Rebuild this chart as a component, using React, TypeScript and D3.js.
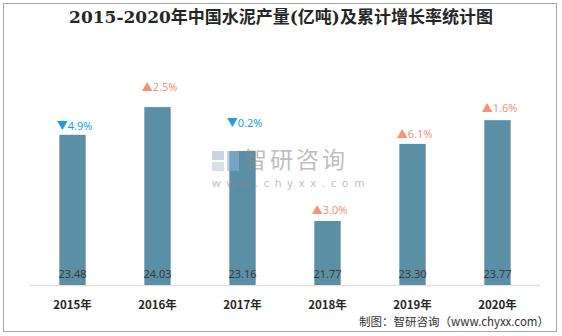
import React from "react";
import * as d3 from "d3";

const years = ["2015年", "2016年", "2017年", "2018年", "2019年", "2020年"];
const output = [23.48, 24.03, 23.16, 21.77, 23.3, 23.77];
const growth = [-4.9, 2.5, -0.2, 3.0, 6.1, 1.6];
const outputLabels = ["23.48", "24.03", "23.16", "21.77", "23.30", "23.77"];

// layout: lift of each growth label above its bar (px)
const labelLift = [9, 20, 28, 11, 10, 12];

const W = 562;
const H = 336;
const baseY = 285;

export default function App() {
  const x = d3
    .scaleBand<string>()
    .domain(years)
    .range([30, 540])
    .paddingInner(0.69)
    .paddingOuter(0.345);
  const y = d3.scaleLinear().domain([20.5, 24.5]).range([baseY, baseY - 4 * 50.4]);

  const sans = "'Noto Sans', 'Noto Sans CJK SC', sans-serif";
  const cjk = "'Noto Sans CJK SC', sans-serif";

  return (
    <div style={{ position: "absolute", left: 0, top: 0 }}>
      <svg width={W} height={H} style={{ display: "block", background: "#fff" }}>
        <rect x={3.5} y={3.5} width={553} height={328} fill="#fff" stroke="#a6a6a6" strokeWidth={1} />
        <text
          x={281}
          y={23}
          textAnchor="middle"
          fontFamily="'DejaVu Serif', 'Noto Sans CJK SC', serif"
          fontSize={17}
          fontWeight={600}
          fill="#262626"
        >
          2015-2020年中国水泥产量(亿吨)及累计增长率统计图
        </text>

        <line x1={30} x2={540} y1={baseY + 0.5} y2={baseY + 0.5} stroke="#e0e0e0" strokeWidth={1.5} />

        {years.map((yr, i) => {
          const bx = x(yr)!;
          const bw = x.bandwidth();
          const top = y(output[i]);
          const cx = bx + bw / 2;
          const up = growth[i] >= 0;
          return (
            <g key={yr}>
              <rect x={bx} y={top} width={bw} height={baseY - top} fill="#5b8fa6" />
              <text x={cx} y={278} textAnchor="middle" fontFamily={sans} fontSize={11} fill="#3a3a3a">
                {outputLabels[i]}
              </text>
              <text
                x={cx + 2}
                y={top - labelLift[i] + 4}
                textAnchor="middle"
                fontFamily={sans}
                fontSize={11}
                fill={up ? "#f3937c" : "#1e9fd8"}
              >
                {(up ? "▲" : "▼") + Math.abs(growth[i]).toFixed(1) + "%"}
              </text>
              <text x={cx} y={309} textAnchor="middle" fontFamily={cjk} fontSize={11.5} fontWeight={700} fill="#262626">
                {yr}
              </text>
            </g>
          );
        })}

        {/* watermark */}
        <g opacity={0.55}>
          <rect x={212} y={151} width={12} height={9} fill="#9fb3c8" />
          <rect x={212} y={162} width={12} height={9} fill="#b7c6d6" />
          <rect x={227} y={151} width={12} height={20} fill="#8fb8d8" />
          <text x={244} y={168} fontFamily={cjk} fontSize={23} fill="#8a8a8a" letterSpacing={3}>
            智研咨询
          </text>
          <text x={212} y={187} fontFamily={sans} fontSize={11} fill="#8a8a8a" letterSpacing={5.8}>
            www.chyxx.com
          </text>
        </g>

        <text x={549} y={326} textAnchor="end" fontFamily={cjk} fontSize={11.5} fill="#333">
          制图：智研咨询（www.chyxx.com）
        </text>
      </svg>
    </div>
  );
}
